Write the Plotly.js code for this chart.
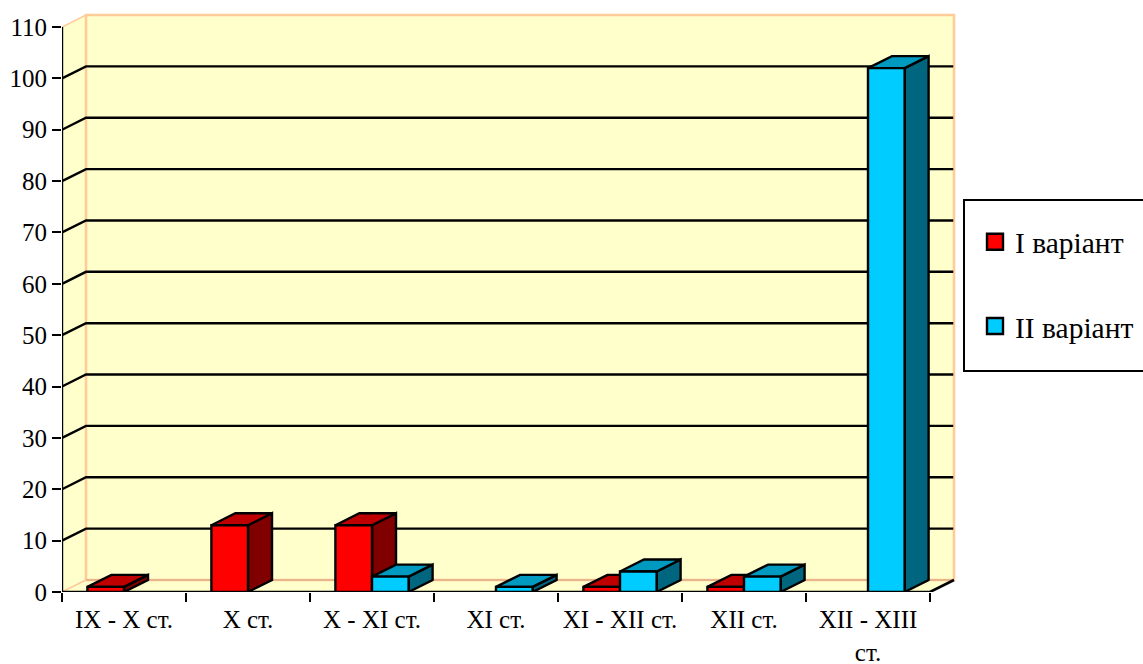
<!DOCTYPE html>
<html><head><meta charset="utf-8">
<script src="https://cdn.plot.ly/plotly-3.0.1.min.js"></script>
<style>html,body{margin:0;padding:0;background:#fff;overflow:hidden}</style>
</head><body><div id="chart" style="width:1143px;height:664px"></div>
<script>
const categories = ["IX - X ст.", "X ст.", "X - XI ст.", "XI ст.", "XI - XII ст.", "XII ст.", "XII - XIII<br>ст."];
const seriesI = [1, 13, 13, 0, 1, 1, 0];
const seriesII = [0, 0, 3, 1, 4, 3, 102];
const seriesNames = ["I варіант", "II варіант"];
const yTicks = [0,10,20,30,40,50,60,70,80,90,100,110];
const gridValues = [10,20,30,40,50,60,70,80,90,100];

const W = 1143, H = 664, L = 62, R = 956, T = 13, B = 592;
const catPx = 124, unitPx = 565/110, depthX = 24/catPx, depthY = 12/unitPx;
const xMin = -0.5, xMax = xMin + (R-L)/catPx, yMax = (B-T)/unitPx;
const xEnd = categories.length - 0.5, yTop = yTicks[yTicks.length-1];
const barW = 36.6/catPx;
const WALL = '#FFFFCC', EDGE = '#FFCC99', FLOOR_EDGE = '#E8B48C';
const SERIF = '"Liberation Serif",serif';

function poly(pts, x, y){ pts.forEach(p=>{x.push(p[0]);y.push(p[1]);}); x.push(pts[0][0]); y.push(pts[0][1]); x.push(null); y.push(null); }
function face(pts, fill, line, width){
  const x=[],y=[]; pts.forEach(p=>poly(p,x,y));
  return {type:'scatter',mode:'lines',x,y,fill:'toself',fillcolor:fill,
    line:{color:line,width:width},hoverinfo:'skip',showlegend:false,cliponaxis:false,xaxis:'x',yaxis:'y'};
}
function path(x,y,color,width){
  return {type:'scatter',mode:'lines',x,y,line:{color,width},hoverinfo:'skip',showlegend:false,cliponaxis:false,xaxis:'x',yaxis:'y'};
}
function depthFaces(values, offset, topColor, sideColor){
  const tops=[],sides=[];
  values.forEach((v,i)=>{
    if(!v) return;
    const x0=i+offset, x1=x0+barW;
    tops.push([[x0,v],[x1,v],[x1+depthX,v+depthY],[x0+depthX,v+depthY]]);
    sides.push([[x1,0],[x1+depthX,depthY],[x1+depthX,v+depthY],[x1,v]]);
  });
  return [face(sides,sideColor,'#000',2.4), face(tops,topColor,'#000',2.4)];
}

const traces = [];
traces.push(face([[[xMin,0],[xMin+depthX,depthY],[xMin+depthX,yTop+depthY],[xMin,yTop]]],WALL,EDGE,1.5));
traces.push(face([[[xMin,0],[xEnd,0],[xEnd+depthX,depthY],[xMin+depthX,depthY]]],WALL,EDGE,1.5));
traces.push(face([[[xMin+depthX,depthY],[xEnd+depthX,depthY],[xEnd+depthX,yTop+depthY],[xMin+depthX,yTop+depthY]]],WALL,EDGE,2.6));
traces.push(path([xMin+depthX,xEnd+depthX],[depthY,depthY],FLOOR_EDGE,2.2));
const gx=[],gy=[];
gridValues.forEach(v=>{gx.push(xMin,xMin+depthX,xEnd+depthX-0.006,null);gy.push(v,v+depthY,v+depthY,null);});
traces.push(path(gx,gy,'#000',2.4));
traces.push(path([xMin,xMin],[0,yTop],'#000',2.4));
traces.push(path([xMin,xEnd,xEnd+depthX],[0,0,depthY],'#000',2.6));
traces.push(...depthFaces(seriesI,-barW,'#BF0000','#800000'));
traces.push(...depthFaces(seriesII,0,'#0099BF','#006680'));
const barLine = {color:'#000',width:2.4};
traces.push({type:'bar',name:seriesNames[0],x:categories,y:seriesI.map(v=>v||null),marker:{color:'#FF0000',line:barLine},xaxis:'x2',yaxis:'y',cliponaxis:false,showlegend:false,hoverinfo:'x+y'});
traces.push({type:'bar',name:seriesNames[1],x:categories,y:seriesII.map(v=>v||null),marker:{color:'#00CCFF',line:barLine},xaxis:'x2',yaxis:'y',cliponaxis:false,showlegend:false,hoverinfo:'x+y'});
[['#FF0000',0],['#00CCFF',1]].forEach(([c,k])=>{
  traces.push({type:'scatter',mode:'markers',name:seriesNames[k],legendgroup:'g'+k,x:[null],y:[null],xaxis:'x',yaxis:'y',
    marker:{symbol:'square',size:16,color:c,line:{color:'#000',width:2.4}},hoverinfo:'skip'});
});

const layout = {
  width:W,height:H,paper_bgcolor:'#fff',plot_bgcolor:'rgba(0,0,0,0)',
  margin:{l:L,r:W-R,t:T,b:H-B,pad:0,autoexpand:false},
  font:{family:SERIF,color:'#000'},
  barmode:'group',bargap:1-2*barW,bargroupgap:0,
  xaxis:{type:'linear',range:[xMin,xMax],visible:false,fixedrange:true},
  xaxis2:{type:'category',overlaying:'x',anchor:'y',side:'bottom',range:[xMin,xMax],categoryorder:'array',categoryarray:categories,
    tickson:'boundaries',ticks:'outside',ticklen:9,tickwidth:2.4,tickcolor:'#000',showgrid:false,showline:false,zeroline:false,ticklabelstandoff:10,
    tickfont:{size:25,family:SERIF,color:'#000'},tickangle:0,fixedrange:true},
  yaxis:{type:'linear',range:[0,yMax],tickmode:'array',tickvals:yTicks,ticktext:yTicks.map(String),ticks:'outside',ticklen:9,tickwidth:2.4,tickcolor:'#000',
    showgrid:false,showline:false,zeroline:false,tickfont:{size:25,family:SERIF,color:'#000'},fixedrange:true},
  showlegend:true,
  legend:{x:(975-L)/(R-L),xanchor:'left',y:(B-216)/(B-T),yanchor:'top',bgcolor:'rgba(0,0,0,0)',borderwidth:0,tracegroupgap:43,
    itemsizing:'trace',font:{size:29.5,family:SERIF,color:'#000'},itemclick:false,itemdoubleclick:false},
  shapes:[{type:'rect',xref:'paper',yref:'paper',x0:(964-L)/(R-L),x1:(1160-L)/(R-L),y0:(B-371)/(B-T),y1:(B-200)/(B-T),line:{color:'#000',width:2},fillcolor:'#fff',layer:'below'}]
};
Plotly.newPlot('chart',traces,layout,{displayModeBar:false});
</script></body></html>
